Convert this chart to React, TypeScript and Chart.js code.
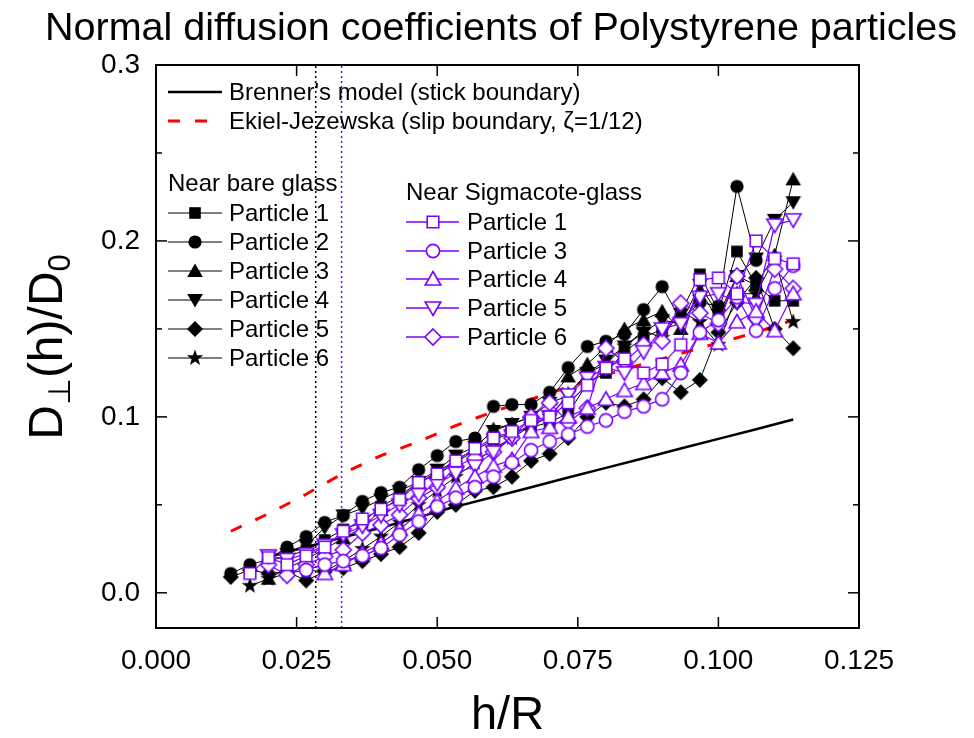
import React, { useEffect, useRef } from 'react';
import { Chart, registerables } from 'chart.js';

Chart.register(...registerables);

// ---------- data ----------
const HR = [0.0133, 0.0167, 0.0200, 0.0233, 0.0267, 0.0300, 0.0333, 0.0367, 0.0400, 0.0433, 0.0467,
  0.0500, 0.0533, 0.0567, 0.0600, 0.0633, 0.0667, 0.0700, 0.0733, 0.0767, 0.0800, 0.0833, 0.0867,
  0.0900, 0.0933, 0.0967, 0.1000, 0.1033, 0.1067, 0.1100, 0.1133];

// Near bare glass
const BARE_P1 = [null, null, 0.018, 0.021, 0.024, 0.030, 0.036, 0.040, 0.049, 0.055, 0.063, 0.067, 0.074, 0.081, 0.087, 0.091, 0.094, 0.097, 0.102, 0.119, 0.125, 0.137, 0.145, 0.150, 0.159, 0.181, 0.160, 0.194, 0.175, 0.166, 0.166];
const BARE_P2 = [0.011, 0.016, 0.019, 0.026, 0.032, 0.040, 0.044, 0.052, 0.057, 0.060, 0.070, 0.078, 0.086, 0.088, 0.106, 0.107, 0.107, 0.114, 0.128, 0.140, 0.143, 0.147, 0.161, 0.174, 0.155, 0.165, 0.163, 0.231, 0.189, null, null];
const BARE_P3 = [null, null, 0.008, 0.014, 0.019, 0.025, 0.031, 0.037, 0.047, 0.054, 0.062, 0.069, 0.075, 0.082, 0.093, 0.096, 0.100, 0.110, 0.123, 0.130, 0.140, 0.150, 0.155, 0.160, 0.150, 0.172, 0.155, 0.180, 0.175, 0.192, 0.235];
const BARE_P4 = [null, null, 0.021, 0.022, 0.027, 0.037, 0.044, 0.048, 0.053, 0.058, 0.063, 0.070, 0.078, 0.083, 0.092, 0.096, 0.100, 0.108, 0.112, 0.125, 0.132, 0.140, 0.148, 0.155, 0.153, 0.175, 0.158, 0.180, 0.190, 0.212, 0.222];
const BARE_P5 = [0.009, 0.013, 0.011, 0.012, 0.007, 0.012, 0.014, 0.018, 0.022, 0.026, 0.034, 0.046, 0.050, 0.058, 0.060, 0.066, 0.075, 0.079, 0.088, 0.100, 0.108, 0.106, 0.110, 0.122, 0.114, 0.121, 0.148, 0.165, 0.179, 0.150, 0.139];
const BARE_P6 = [null, 0.004, 0.008, 0.011, 0.013, 0.012, 0.018, 0.025, 0.032, 0.040, 0.050, 0.058, 0.066, 0.074, 0.082, 0.088, 0.095, 0.100, 0.113, 0.125, 0.130, 0.140, 0.149, 0.145, 0.160, 0.154, 0.141, 0.170, 0.170, 0.190, 0.154];

// Near Sigmacote-glass
const SIG_P1 = [null, 0.011, 0.020, 0.016, 0.021, 0.026, 0.035, 0.042, 0.0475, 0.053, 0.0627, 0.0676, 0.075, 0.082, 0.088, 0.0917, 0.098, 0.100, 0.108, 0.118, 0.1277, 0.133, 0.125, 0.130, 0.141, 0.178, 0.179, 0.170, 0.200, 0.190, 0.187];
const SIG_P3 = [null, null, null, null, 0.013, 0.016, 0.018, 0.021, 0.0254, 0.033, 0.0405, 0.049, 0.054, 0.060, 0.066, 0.074, 0.081, 0.086, 0.090, 0.0945, 0.098, 0.103, 0.106, 0.110, 0.125, 0.148, 0.155, 0.168, 0.149, 0.173, 0.186];
const SIG_P4 = [null, null, null, null, null, 0.011, 0.016, 0.0225, 0.028, 0.036, 0.045, 0.052, 0.0595, 0.066, 0.072, 0.0756, 0.0917, 0.094, 0.100, 0.105, 0.110, 0.115, 0.119, 0.125, 0.1295, 0.1475, 0.142, 0.154, 0.160, 0.149, 0.170];
const SIG_P5 = [null, null, 0.021, 0.019, 0.022, 0.027, 0.033, 0.038, 0.044, 0.050, 0.056, 0.062, 0.068, 0.072, 0.080, 0.089, 0.096, 0.100, 0.1125, 0.122, 0.128, 0.125, 0.137, 0.150, 0.153, 0.168, 0.170, 0.1655, 0.164, 0.209, 0.212];
const SIG_P6 = [null, null, 0.016, 0.010, 0.016, 0.0206, 0.0244, 0.034, 0.0386, 0.0443, 0.0538, 0.060, 0.072, 0.0765, 0.080, 0.088, 0.100, 0.108, 0.097, 0.105, 0.139, 0.1314, 0.141, 0.143, 0.1646, 0.159, 0.153, 0.180, 0.156, 0.184, 0.173];

// Model curves
const BRENNER_X = [0.0200, 0.0267, 0.0333, 0.0400, 0.0467, 0.0533, 0.0600, 0.0667, 0.0733, 0.0800, 0.0867, 0.0933, 0.1000, 0.1067, 0.1133];
const BRENNER_Y = [0.0205, 0.026, 0.0315, 0.037, 0.043, 0.049, 0.0545, 0.060, 0.0655, 0.071, 0.0765, 0.082, 0.0875, 0.093, 0.0985];
const SLIP_X = [0.0133, 0.0200, 0.0267, 0.0333, 0.0400, 0.0467, 0.0533, 0.0600, 0.0667, 0.0733, 0.0800, 0.0867, 0.0933, 0.1000, 0.1067, 0.1133];
const SLIP_Y = [0.035, 0.045, 0.056, 0.068, 0.078, 0.086, 0.095, 0.103, 0.110, 0.117, 0.124, 0.130, 0.136, 0.142, 0.148, 0.155];

const VLINE_BARE = 0.0284;
const VLINE_SIG = 0.0330;

const X_TICKS = [0, 0.025, 0.05, 0.075, 0.1, 0.125];
const Y_TICKS = [0, 0.1, 0.2, 0.3];
const Y_MINOR = [0.05, 0.15, 0.25];

const BARE_LABELS = ['Particle 1', 'Particle 2', 'Particle 3', 'Particle 4', 'Particle 5', 'Particle 6'];
const SIG_LABELS = ['Particle 1', 'Particle 3', 'Particle 4', 'Particle 5', 'Particle 6'];

const PURPLE = '#7a00ff';
const FONT = "Arial, 'Liberation Sans', sans-serif";

type Shape = 'square' | 'circle' | 'tri' | 'itri' | 'diamond' | 'star';

function drawMarker(ctx: CanvasRenderingContext2D, shape: Shape, x: number, y: number, fill: string, stroke: string | null, lw: number) {
  ctx.save();
  ctx.beginPath();
  if (shape === 'square') {
    const s = 5.8;
    ctx.rect(x - s, y - s, 2 * s, 2 * s);
  } else if (shape === 'circle') {
    ctx.arc(x, y, 6.6, 0, Math.PI * 2);
  } else if (shape === 'tri') {
    ctx.moveTo(x, y - 7.5);
    ctx.lineTo(x + 7.8, y + 6);
    ctx.lineTo(x - 7.8, y + 6);
    ctx.closePath();
  } else if (shape === 'itri') {
    ctx.moveTo(x, y + 7.5);
    ctx.lineTo(x + 7.8, y - 6);
    ctx.lineTo(x - 7.8, y - 6);
    ctx.closePath();
  } else if (shape === 'diamond') {
    const d = 8;
    ctx.moveTo(x, y - d);
    ctx.lineTo(x + d, y);
    ctx.lineTo(x, y + d);
    ctx.lineTo(x - d, y);
    ctx.closePath();
  } else if (shape === 'star') {
    const ro = 8.6, ri = 3.5;
    for (let i = 0; i < 10; i++) {
      const r = i % 2 === 0 ? ro : ri;
      const a = -Math.PI / 2 + (i * Math.PI) / 5;
      const px = x + r * Math.cos(a), py = y + r * Math.sin(a);
      if (i === 0) ctx.moveTo(px, py); else ctx.lineTo(px, py);
    }
    ctx.closePath();
  }
  ctx.fillStyle = fill;
  ctx.fill();
  if (stroke) {
    ctx.lineWidth = lw;
    ctx.strokeStyle = stroke;
    ctx.stroke();
  }
  ctx.restore();
}

function markerImage(shape: Shape, fill: string, stroke: string | null, lw: number) {
  const c = document.createElement('canvas');
  c.width = 24; c.height = 24;
  const ctx = c.getContext('2d')!;
  drawMarker(ctx, shape, 12, 12, fill, stroke, lw);
  return c;
}

const BARE_SHAPES: Shape[] = ['square', 'circle', 'tri', 'itri', 'diamond', 'star'];
const SIG_SHAPES: Shape[] = ['square', 'circle', 'tri', 'itri', 'diamond'];

function toPoints(xs: number[], ys: (number | null)[]) {
  const out: { x: number; y: number }[] = [];
  xs.forEach((x, i) => { const v = ys[i]; if (v !== null && v !== undefined) out.push({ x, y: v }); });
  return out;
}

const decor = {
  id: 'decor',
  afterDraw(chart: any) {
    const { ctx, chartArea: a, scales } = chart;
    const xs = scales.x, ys = scales.y;
    ctx.save();
    // frame
    ctx.strokeStyle = '#000';
    ctx.lineWidth = 2;
    ctx.strokeRect(a.left, a.top, a.right - a.left, a.bottom - a.top);
    const seg = (x1: number, y1: number, x2: number, y2: number) => { ctx.beginPath(); ctx.moveTo(x1, y1); ctx.lineTo(x2, y2); ctx.stroke(); };
    ctx.lineWidth = 1.5;
    X_TICKS.forEach(v => { const p = xs.getPixelForValue(v); seg(p, a.bottom, p, a.bottom - 11); seg(p, a.top, p, a.top + 11); });
    Y_TICKS.forEach(v => { const p = ys.getPixelForValue(v); seg(a.left, p, a.left + 11, p); seg(a.right, p, a.right - 11, p); });
    Y_MINOR.forEach(v => { const p = ys.getPixelForValue(v); seg(a.left, p, a.left + 6, p); seg(a.right, p, a.right - 6, p); });

    // title
    ctx.fillStyle = '#000';
    ctx.textBaseline = 'middle';
    ctx.textAlign = 'center';
    ctx.font = `39.5px ${FONT}`;
    ctx.fillText('Normal diffusion coefficients of Polystyrene particles', 501, 29);
    // x title
    ctx.font = `47px ${FONT}`;
    ctx.fillText('h/R', (a.left + a.right) / 2, 716);
    // y title with subscripts
    ctx.save();
    ctx.translate(49, 347);
    ctx.rotate(-Math.PI / 2);
    ctx.textAlign = 'left';
    const big = `48px ${FONT}`, small = `31px ${FONT}`;
    const parts: [string, string, number][] = [['D', big, 0], ['\u22A5', small, 12], ['(h)/D', big, 0], ['0', small, 12]];
    let total = 0;
    parts.forEach(([t, f]) => { ctx.font = f; total += ctx.measureText(t).width; });
    let cx = -total / 2;
    parts.forEach(([t, f, dy]) => { ctx.font = f; ctx.fillText(t, cx, dy); cx += ctx.measureText(t).width; });
    ctx.restore();

    // legend
    ctx.textAlign = 'left';
    ctx.font = `24px ${FONT}`;
    ctx.strokeStyle = '#000';
    ctx.lineWidth = 2.5;
    seg(168, 92, 222, 92);
    ctx.fillText("Brenner's model (stick boundary)", 229, 93);
    ctx.save();
    ctx.strokeStyle = '#ff0000';
    ctx.lineWidth = 3;
    ctx.setLineDash([12, 15]);
    seg(168, 121, 222, 121);
    ctx.restore();
    ctx.fillText('Ekiel-Jezewska (slip boundary, \u03B6=1/12)', 229, 122);

    ctx.fillText('Near bare glass', 168, 184);
    const bareY = [213, 242, 271, 300, 329, 358];
    ctx.lineWidth = 1;
    BARE_LABELS.forEach((lab, i) => {
      ctx.strokeStyle = '#000';
      seg(168, bareY[i], 222, bareY[i]);
      drawMarker(ctx, BARE_SHAPES[i], 195, bareY[i], '#000', null, 1);
      ctx.fillStyle = '#000';
      ctx.fillText(lab, 229, bareY[i] + 1);
    });
    ctx.fillText('Near Sigmacote-glass', 406, 193);
    const sigY = [222, 251, 279, 308, 337];
    SIG_LABELS.forEach((lab, i) => {
      ctx.strokeStyle = PURPLE;
      ctx.lineWidth = 1.3;
      seg(406, sigY[i], 459, sigY[i]);
      drawMarker(ctx, SIG_SHAPES[i], 433, sigY[i], '#fff', PURPLE, 1.6);
      ctx.fillStyle = '#000';
      ctx.fillText(lab, 467, sigY[i] + 1);
    });
    ctx.restore();
  },
};

export default function App() {
  const ref = useRef<HTMLCanvasElement>(null);
  useEffect(() => {
    if (!ref.current) return;
    const bareSets = [BARE_P1, BARE_P2, BARE_P3, BARE_P4, BARE_P5, BARE_P6].map((vals, i) => ({
      label: 'Bare ' + BARE_LABELS[i],
      data: toPoints(HR, vals),
      showLine: true,
      borderColor: '#000',
      borderWidth: 1,
      pointStyle: markerImage(BARE_SHAPES[i], '#000', null, 1),
      pointRadius: 6,
      order: 20 + i,
    }));
    const sigSets = [SIG_P1, SIG_P3, SIG_P4, SIG_P5, SIG_P6].map((vals, i) => ({
      label: 'Sigmacote ' + SIG_LABELS[i],
      data: toPoints(HR, vals),
      showLine: true,
      borderColor: PURPLE,
      borderWidth: 1.2,
      pointStyle: markerImage(SIG_SHAPES[i], '#fff', PURPLE, 1.6),
      pointRadius: 6,
      order: 10 + i,
    }));
    const curves = [
      { label: 'Brenner', data: toPoints(BRENNER_X, BRENNER_Y), showLine: true, borderColor: '#000', borderWidth: 2.5, pointRadius: 0, order: 40 },
      { label: 'Slip', data: toPoints(SLIP_X, SLIP_Y), showLine: true, borderColor: '#ff0000', borderWidth: 3, borderDash: [12, 15], pointRadius: 0, order: 41 },
      { label: 'vb', data: [{ x: VLINE_BARE, y: -0.02 }, { x: VLINE_BARE, y: 0.3 }], showLine: true, borderColor: '#000', borderWidth: 1.5, borderDash: [2, 3], pointRadius: 0, order: 50 },
      { label: 'vs', data: [{ x: VLINE_SIG, y: -0.02 }, { x: VLINE_SIG, y: 0.3 }], showLine: true, borderColor: PURPLE, borderWidth: 1.5, borderDash: [2, 3], pointRadius: 0, order: 51 },
    ];
    const chart = new Chart(ref.current, {
      type: 'scatter',
      data: { datasets: [...sigSets, ...bareSets, ...curves] as any },
      options: {
        animation: false,
        responsive: false,
        devicePixelRatio: 1,
        layout: { padding: { left: 0, right: 115, top: 65, bottom: 0 } },
        plugins: { legend: { display: false }, tooltip: { enabled: false }, title: { display: false } },
        scales: {
          x: {
            type: 'linear', min: 0, max: 0.125,
            afterBuildTicks: (s: any) => { s.ticks = X_TICKS.map(v => ({ value: v })); },
            afterFit: (s: any) => { s.height = 110; },
            grid: { display: false }, border: { display: false },
            ticks: { callback: (v: any) => Number(v).toFixed(3), color: '#000', font: { family: FONT, size: 28 }, padding: 8, maxRotation: 0, autoSkip: false },
          },
          y: {
            type: 'linear', min: -0.02, max: 0.3,
            afterBuildTicks: (s: any) => { s.ticks = Y_TICKS.map(v => ({ value: v })); },
            afterFit: (s: any) => { s.width = 156; },
            grid: { display: false }, border: { display: false },
            ticks: { callback: (v: any) => Number(v).toFixed(1), color: '#000', font: { family: FONT, size: 28 }, padding: 8 },
          },
        },
      },
      plugins: [decor],
    });
    return () => chart.destroy();
  }, []);
  return (
    <div style={{ position: 'absolute', left: 0, top: 0, width: 974, height: 738, background: '#fff' }}>
      <canvas ref={ref} width={974} height={738} style={{ width: 974, height: 738, display: 'block' }} />
    </div>
  );
}
